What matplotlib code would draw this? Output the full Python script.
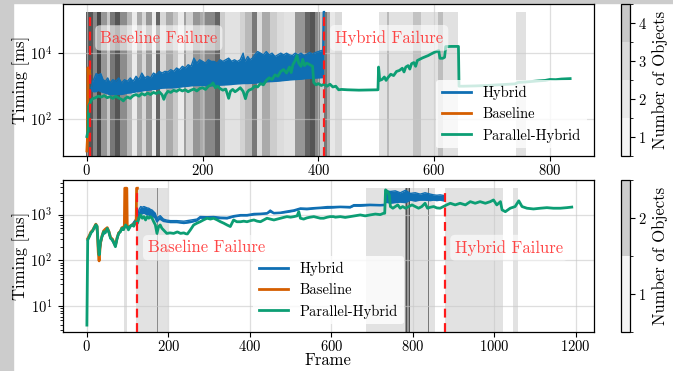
import matplotlib
matplotlib.use('Agg')
import matplotlib.pyplot as plt
from matplotlib.colors import ListedColormap, BoundaryNorm
from matplotlib.cm import ScalarMappable
from matplotlib.lines import Line2D
from matplotlib.patches import Rectangle
from matplotlib.ticker import NullLocator

plt.rcParams['font.family'] = ['cmr10', 'DejaVu Serif']
plt.rcParams['mathtext.fontset'] = 'cm'
plt.rcParams['axes.formatter.use_mathtext'] = True
plt.rcParams['axes.unicode_minus'] = False

# ---------------- data : top panel ----------------
top_hybrid = [  # (frame, low, high) ms
    (8, 890, 890), (10, 710, 1400), (13, 690, 1780), (16, 700, 2400), (20, 760, 2200), (24, 700, 2400),
    (28, 660, 1580), (32, 630, 1410), (36, 600, 1780), (40, 560, 1260), (45, 570, 1580), (50, 575, 1410),
    (55, 575, 1780), (60, 575, 1260), (65, 600, 1580), (70, 630, 1410), (75, 640, 1780), (80, 660, 1410),
    (85, 690, 2000), (90, 710, 1580), (95, 730, 2500), (100, 760, 1780), (105, 770, 2000), (110, 790, 1780),
    (115, 810, 2500), (120, 830, 2240), (125, 860, 2820), (130, 890, 2500), (135, 900, 2820), (140, 910, 2700),
    (145, 910, 3160), (150, 910, 2820), (155, 930, 3550), (160, 955, 3160), (165, 980, 4000), (170, 1000, 3550),
    (175, 1020, 4470), (180, 1050, 4000), (185, 1060, 7080), (190, 1070, 5010), (195, 1070, 6310), (200, 1070, 5620),
    (205, 1060, 5010), (210, 1050, 6310), (215, 1050, 5620), (220, 1050, 5620), (225, 1080, 5010), (230, 1100, 6310),
    (235, 1110, 5620), (240, 1120, 6310), (245, 1130, 7080), (250, 1150, 5620), (255, 1180, 6310), (260, 1200, 5620),
    (265, 1210, 6310), (270, 1230, 10000), (273, 1230, 5620), (278, 1230, 7940), (282, 1240, 6310), (286, 1250, 7080),
    (290, 1260, 8910), (295, 1290, 11200), (300, 1320, 10000), (305, 1350, 8910), (310, 1380, 11200), (315, 1400, 8910),
    (320, 1410, 10000), (325, 1430, 7940), (330, 1450, 8910), (335, 1480, 10000), (340, 1510, 8910), (345, 1540, 10000),
    (350, 1580, 8910), (355, 1600, 8500), (360, 1620, 10000), (365, 1640, 8910), (370, 1660, 10000), (375, 1700, 8500),
    (380, 1740, 9330), (385, 1760, 10500), (390, 1780, 9330), (395, 1800, 10500), (400, 1820, 11200), (405, 1840, 12000),
    (408, 1860, 12000), (409, 178000, 178000), (410, 178000, 178000)]

top_baseline = [(0, 11), (1, 25), (2, 3600), (3, 2000), (4, 3200), (5, 2400)]

top_parallel = [
    (0, 30), (2, 45), (3, 250), (5, 300), (8, 380), (10, 420), (15, 450), (20, 500), (25, 470), (30, 520),
    (35, 450), (40, 480), (45, 430), (50, 500), (55, 440), (60, 400), (63, 360), (66, 420), (70, 470), (75, 430),
    (80, 520), (85, 560), (90, 500), (95, 600), (100, 540), (105, 620), (110, 560), (115, 650), (120, 600),
    (125, 680), (130, 550), (133, 400), (136, 560), (140, 700), (145, 650), (150, 750), (155, 700), (160, 800),
    (165, 720), (170, 780), (175, 680), (180, 760), (185, 820), (190, 720), (195, 850), (200, 900), (205, 800),
    (210, 1000), (215, 1100), (218, 1260), (222, 900), (226, 1000), (230, 850), (235, 760), (240, 820), (245, 430),
    (248, 700), (252, 800), (256, 680), (260, 760), (265, 900), (270, 700), (274, 420), (277, 650), (280, 760),
    (285, 820), (290, 1000), (295, 950), (300, 1200), (305, 1100), (310, 1500), (315, 1800), (320, 1600),
    (325, 2200), (330, 2000), (335, 2800), (340, 3200), (345, 2500), (350, 3800), (353, 2600), (356, 4500),
    (360, 6000), (363, 8500), (366, 5000), (370, 4000), (373, 6500), (376, 4200), (380, 5000), (385, 4500),
    (390, 4000), (392, 1300), (396, 1100), (400, 1200), (405, 1050), (410, 1150), (415, 1000), (420, 1150),
    (425, 950), (430, 1000), (435, 780), (440, 800), (450, 780), (470, 760), (490, 770), (503, 780), (504, 3800),
    (506, 1500), (510, 1600), (514, 1900), (517, 1500), (520, 1800), (525, 2300), (530, 2100), (535, 2800),
    (540, 3000), (545, 3500), (548, 2700), (551, 3800), (555, 4200), (558, 3300), (561, 4800), (565, 5200),
    (568, 4000), (571, 6000), (575, 6500), (580, 7200), (585, 7800), (590, 8500), (595, 9500), (600, 10500),
    (605, 11500), (608, 12000), (610, 7000), (615, 7000), (618, 7500), (620, 15800), (630, 16000), (640, 16000),
    (642, 16000), (643, 1000), (650, 1000), (670, 1020), (690, 1050), (710, 1100), (730, 1150), (740, 1180),
    (745, 1300), (760, 1350), (780, 1450), (792, 1500), (800, 1600), (810, 1580), (820, 1650), (835, 1700)]

top_failures = [5, 410]
top_counts = [1, 2, 3, 4]
top_bands = [  # (start frame, end frame, gray level)
    (-1, 11, 85), (11, 17, 136), (17, 25, 70), (25, 34, 150), (34, 40, 200), (40, 48, 120), (48, 57, 85),
    (57, 69, 140), (69, 78, 185), (78, 86, 235), (86, 95, 170), (95, 103, 215), (103, 112, 150), (112, 120, 235),
    (120, 126, 100), (126, 137, 215), (137, 149, 170), (149, 158, 200), (158, 167, 235), (167, 172, 160),
    (172, 184, 210), (184, 195, 150), (195, 204, 170), (204, 221, 136), (221, 230, 100), (230, 239, 205),
    (239, 265, 226), (265, 273, 210), (273, 285, 185), (285, 294, 120), (294, 302, 220), (302, 317, 170),
    (317, 328, 205), (328, 340, 220), (340, 360, 226), (360, 377, 150), (377, 386, 100), (386, 394, 85),
    (394, 403, 136), (403, 409, 205), (409, 415, 120), (415, 420, 170), (420, 429, 232), (429, 440, 218),
    (504, 642, 225), (519, 522, 185), (563, 577, 195), (606, 616, 190), (742, 759, 225)]

# ---------------- data : bottom panel ----------------
bot_hybrid = [
    (2, 280, 280), (10, 400, 400), (18, 520, 520), (22, 600, 600), (26, 380, 380), (30, 140, 140), (37, 330, 330),
    (45, 420, 420), (50, 500, 500), (58, 310, 310), (70, 210, 210), (78, 390, 390), (86, 500, 500), (95, 590, 590),
    (102, 480, 480), (111, 600, 600), (119, 760, 760), (124, 835, 900), (128, 1000, 1300), (132, 1100, 1500),
    (136, 1050, 1450), (140, 1100, 1500), (144, 1050, 1450), (148, 1000, 1400), (152, 1000, 1380), (156, 950, 1300),
    (160, 950, 1260), (164, 900, 1160), (168, 850, 1070), (172, 700, 800), (176, 780, 900), (180, 800, 950),
    (188, 720, 800), (196, 700, 760), (205, 680, 740), (221, 680, 740), (238, 650, 720), (254, 680, 760),
    (270, 740, 800), (278, 850, 910), (295, 840, 900), (311, 860, 910), (328, 830, 880), (344, 820, 870),
    (360, 900, 950), (377, 950, 1000), (393, 950, 1000), (410, 1000, 1060), (426, 1020, 1070), (442, 1050, 1100),
    (450, 1160, 1260), (459, 1060, 1110), (475, 1080, 1130), (491, 1130, 1200), (508, 1200, 1270), (524, 1330, 1400),
    (540, 1300, 1380), (557, 1350, 1420), (573, 1380, 1450), (590, 1400, 1500), (605, 1420, 1500), (622, 1450, 1520),
    (646, 1420, 1500), (655, 1550, 1650), (671, 1550, 1650), (695, 1600, 1680), (720, 1580, 1650), (731, 1600, 1680),
    (733, 1900, 3300), (745, 1800, 3200), (757, 1850, 3300), (769, 1900, 3000), (782, 1850, 3400), (794, 2100, 2900),
    (806, 2000, 3000), (818, 2100, 2800), (830, 2100, 3000), (843, 2050, 2800), (851, 2100, 2700), (859, 2050, 2650),
    (867, 2100, 2700), (878, 2000, 2600)]

bot_baseline = [
    (2, 300), (6, 350), (10, 420), (14, 450), (18, 530), (22, 620), (25, 550), (28, 150), (30, 98), (33, 230),
    (37, 340), (41, 440), (45, 480), (50, 520), (54, 430), (58, 320), (63, 290), (70, 210), (74, 310), (78, 400),
    (82, 430), (86, 520), (90, 480), (92, 600), (93, 3770), (98, 3770), (99, 600), (100, 530), (106, 560),
    (111, 600), (115, 570), (119, 700), (121, 720), (122, 3770), (124, 3770)]

bot_parallel = [
    (0, 3.9), (2, 280), (6, 330), (10, 400), (14, 440), (18, 520), (22, 600), (25, 560), (28, 200), (30, 132),
    (33, 250), (37, 330), (41, 425), (45, 400), (50, 500), (54, 420), (58, 305), (63, 280), (70, 200), (74, 300),
    (78, 390), (82, 420), (86, 505), (90, 470), (95, 595), (100, 520), (102, 465), (106, 560), (111, 595),
    (115, 560), (119, 700), (124, 650), (128, 835), (132, 985), (136, 835), (140, 905), (144, 765), (148, 905),
    (152, 835), (156, 905), (160, 835), (164, 700), (168, 600), (172, 390), (176, 550), (180, 595), (184, 505),
    (188, 465), (192, 425), (196, 390), (204, 400), (213, 390), (222, 420), (230, 390), (238, 400), (246, 372),
    (254, 465), (262, 595), (270, 650), (278, 700), (286, 765), (295, 835), (303, 800), (311, 835), (320, 765),
    (328, 700), (336, 650), (344, 595), (352, 550), (360, 765), (368, 700), (377, 700), (385, 720), (393, 700),
    (402, 740), (410, 765), (418, 720), (426, 700), (434, 765), (442, 835), (450, 800), (459, 765), (467, 800),
    (475, 835), (483, 870), (491, 905), (500, 880), (508, 905), (516, 940), (520, 1160), (524, 835), (532, 800),
    (540, 850), (548, 880), (557, 905), (565, 870), (573, 835), (581, 835), (590, 880), (597, 905), (605, 905),
    (610, 880), (622, 905), (634, 870), (646, 905), (658, 940), (671, 985), (683, 940), (695, 985), (708, 1030),
    (720, 1000), (728, 1070), (731, 1070), (733, 3470), (738, 3180), (742, 2690), (745, 1500), (751, 1380),
    (757, 1500), (763, 1630), (769, 1380), (775, 1500), (782, 1380), (790, 1500), (798, 1630), (806, 1500),
    (814, 1380), (822, 1500), (830, 1770), (836, 1380), (843, 1450), (851, 1500), (859, 1400), (867, 1380),
    (875, 1500), (883, 1630), (892, 1770), (904, 1630), (916, 1770), (929, 1630), (941, 1920), (953, 1770),
    (965, 1920), (978, 1770), (990, 1920), (998, 2090), (1006, 1630), (1015, 1920), (1019, 1270), (1027, 1160),
    (1039, 1380), (1051, 1500), (1060, 2000), (1068, 1500), (1080, 1380), (1096, 1330), (1113, 1380),
    (1129, 1420), (1145, 1380), (1162, 1380), (1178, 1420), (1190, 1460)]

bot_failures = [124, 878]
bot_counts = [1, 2]
bot_bands = [
    (92, 99, 225), (121, 200, 226), (171, 174, 140), (686, 781, 226), (781, 794, 150), (784, 786, 80),
    (790, 792, 80), (794, 855, 226), (837, 839, 120), (880, 1022, 226), (1046, 1057, 226)]

series_names = ['Hybrid', 'Baseline', 'Parallel-Hybrid']
colors = {'Hybrid': '#0f6fb3', 'Baseline': '#d55e00', 'Parallel-Hybrid': '#0c9e74'}

# ---------------- figure ----------------
fig = plt.figure(figsize=(6.73, 3.71), dpi=100)
fig.patches.append(Rectangle((0, 0), 13 / 673, 1, transform=fig.transFigure, color='#cccccc', zorder=-5))
fig.patches.append(Rectangle((0, 1 - 2.5 / 371), 1, 2.5 / 371, transform=fig.transFigure, color='#cccccc', zorder=-5))

ax1 = fig.add_axes([0.0932, 0.5803, 0.7894, 0.408])
ax2 = fig.add_axes([0.0932, 0.1059, 0.7894, 0.409])
cax1 = fig.add_axes([0.9223, 0.5803, 0.0138, 0.408])
cax2 = fig.add_axes([0.9223, 0.1059, 0.0138, 0.409])


def draw_panel(ax, hybrid, baseline, parallel, bands, failures, ylim, xlim, texts):
    ax.set_yscale('log')
    ax.set_xlim(*xlim)
    ax.set_ylim(*ylim)
    hx = [p[0] for p in hybrid]
    hl = [p[1] for p in hybrid]
    hh = [p[2] for p in hybrid]
    bx = [p[0] for p in baseline]
    by = [p[1] for p in baseline]
    px = [p[0] for p in parallel]
    py = [p[1] for p in parallel]
    ymax = max(max(hh), max(by), max(py))
    for s, e, g in bands:
        ax.bar(s, ymax - ylim[0], width=e - s, bottom=ylim[0], align='edge',
               color=(g / 255, g / 255, g / 255), lw=0, zorder=0.2)
    ax.grid(True, color='#c8c8c8', alpha=0.6, lw=0.9, zorder=1.5)
    ax.set_axisbelow('line')
    c = colors['Hybrid']
    ax.fill_between(hx, hl, hh, color=c, lw=0, zorder=2)
    ax.plot(hx, hh, color=c, lw=1.0, zorder=2)
    ax.plot(hx, hl, color=c, lw=1.4, zorder=2)
    ax.plot(bx, by, color=colors['Baseline'], lw=2.0, zorder=2.1)
    ax.plot(px, py, color=colors['Parallel-Hybrid'], lw=2.0, zorder=2.2)
    ax.vlines(failures, ylim[0], ymax, colors='#ff1a1a', linestyles=(0, (4, 2.5)), lw=1.6, zorder=3)
    for (tx, ty, label) in texts:
        ax.text(tx, ty, label, color=(1, 0.15, 0.15, 0.85), fontsize=12, ha='left', va='center', zorder=4,
                bbox=dict(boxstyle='round,pad=0.3', facecolor='white', alpha=0.6, edgecolor='none'))
    handles = [Line2D([], [], color=colors[n], lw=2.0) for n in series_names]
    ax.tick_params(labelsize=10.5, width=0.8)
    ax.tick_params(axis='x', pad=2)
    ax.tick_params(axis='y', pad=4)
    for sp in ax.spines.values():
        sp.set_linewidth(0.9)
    return handles


h = draw_panel(ax1, top_hybrid, top_baseline, top_parallel, top_bands, top_failures,
               (7.9, 3.0e5), (-41.7, 876.2),
               [(23, 29000, 'Baseline Failure'), (429, 29000, 'Hybrid Failure')])
ax1.set_yticks([1e2, 1e4])
ax1.yaxis.set_minor_locator(NullLocator())
ax1.set_xticks([0, 200, 400, 600, 800])
ax1.set_ylabel('Timing [ms]', fontsize=12, labelpad=0)
ax1.legend(h, series_names, loc='lower right', fontsize=10.5, framealpha=0.8, edgecolor='none')

h = draw_panel(ax2, bot_hybrid, bot_baseline, bot_parallel, bot_bands, bot_failures,
               (2.8, 5700), (-59.3, 1244.6),
               [(150, 190, 'Baseline Failure'), (904, 190, 'Hybrid Failure')])
ax2.set_yticks([1e1, 1e2, 1e3])
ax2.set_xticks([0, 200, 400, 600, 800, 1000, 1200])
ax2.set_ylabel('Timing [ms]', fontsize=12, labelpad=0)
ax2.set_xlabel('Frame', fontsize=12, labelpad=-1)
ax2.legend(h, series_names, loc='lower center', fontsize=10.5, framealpha=0.8, edgecolor='none')


def draw_cbar(cax, counts, shades):
    bounds = [counts[0] - 0.5] + [c + 0.5 for c in counts]
    cmap = ListedColormap(shades)
    norm = BoundaryNorm(bounds, len(counts))
    cb = fig.colorbar(ScalarMappable(norm=norm, cmap=cmap), cax=cax, ticks=counts)
    cb.set_label('Number of Objects', fontsize=12)
    cb.ax.tick_params(labelsize=10.5, pad=2)
    cb.outline.set_linewidth(0.9)


draw_cbar(cax1, top_counts, ['#f5f5f5', '#e8e8e8', '#dadada', '#c8c8c8'])
draw_cbar(cax2, bot_counts, ['#f5f5f5', '#cccccc'])

fig.savefig('out.png', dpi=100)
